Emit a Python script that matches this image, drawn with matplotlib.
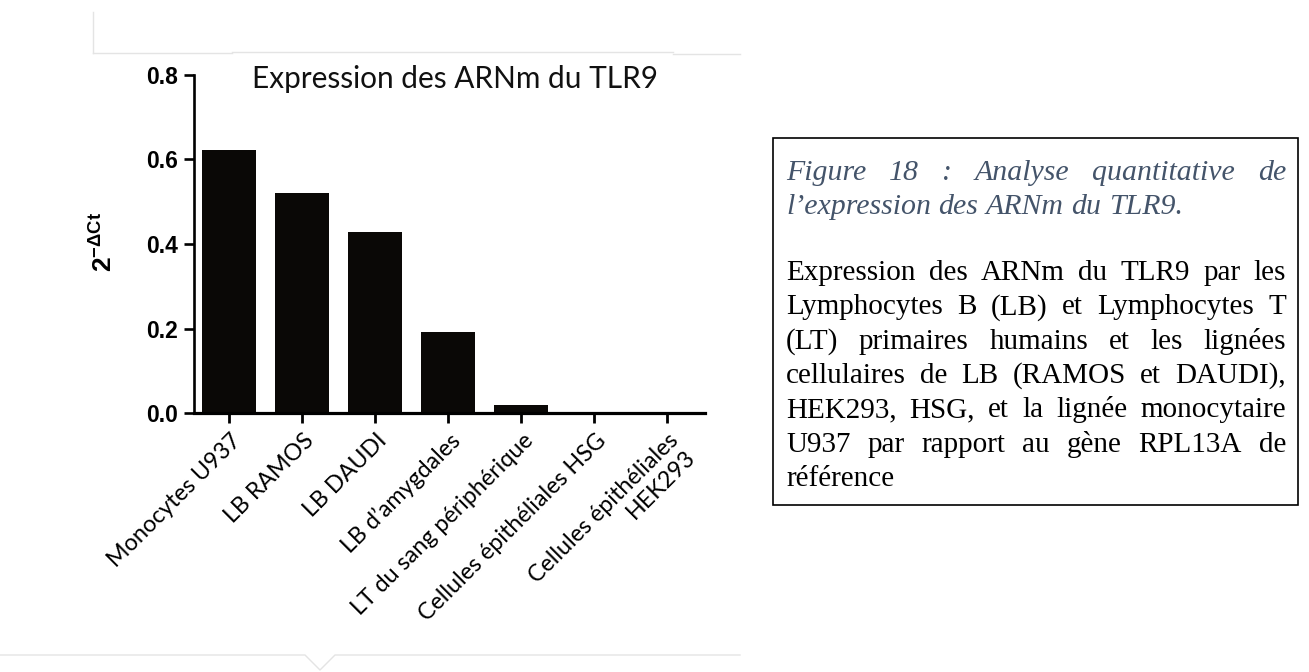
import matplotlib
matplotlib.use("Agg")
import matplotlib.pyplot as plt
from matplotlib.transforms import ScaledTranslation
from matplotlib.patches import Rectangle
from matplotlib.lines import Line2D

# ---------------- data ----------------
categories = ["Monocytes U937", "LB RAMOS", "LB DAUDI", "LB d’amygdales",
              "LT du sang périphérique", "Cellules épithéliales HSG",
              "Cellules épithéliales\nHEK293"]
values = [0.621, 0.521, 0.429, 0.193, 0.020, 0.001, 0.001]
yticks = [0.0, 0.2, 0.4, 0.6, 0.8]
ytick_labels = ["0.0", "0.2", "0.4", "0.6", "0.8"]
title = "Expression des ARNm du TLR9"
ylabel = r"$\mathbf{2^{-\Delta Ct}}$"

caption_head = [("Figure 18 : Analyse quantitative de", True),
                ("l’expression des ARNm du TLR9.", False)]
caption_body = [("Expression des ARNm du TLR9 par les", True),
                ("Lymphocytes B (LB) et Lymphocytes T", True),
                ("(LT) primaires humains et les lignées", True),
                ("cellulaires de LB (RAMOS et DAUDI),", True),
                ("HEK293, HSG, et la lignée monocytaire", True),
                ("U937 par rapport au gène RPL13A de", True),
                ("référence", False)]

# ---------------- figure ----------------
W, H = 1309, 672
plt.rcParams['mathtext.fontset'] = 'custom'
plt.rcParams['mathtext.bf'] = 'Liberation Sans:bold'
plt.rcParams['mathtext.rm'] = 'Liberation Sans:bold'
plt.rcParams['mathtext.it'] = 'Liberation Sans:bold'

fig = plt.figure(figsize=(W / 100, H / 100), dpi=100)
fig.patch.set_facecolor("white")
renderer = fig.canvas.get_renderer()

def fx(px):
    return px / W

def fy(py):
    return 1 - py / H

ax_l, ax_r, ax_t, ax_b = 193.5, 705.0, 74.7, 413.3
ax = fig.add_axes([fx(ax_l), fy(ax_b), (ax_r - ax_l) / W, (ax_b - ax_t) / H])

x = list(range(len(categories)))
ax.bar(x, values, width=0.74, color="#0a0806", edgecolor="none", zorder=2)
ax.set_xlim(-0.49, 6.52)
ax.set_ylim(0, 0.8)

for s in ["top", "right"]:
    ax.spines[s].set_visible(False)
ax.spines["left"].set_linewidth(1.9)
ax.spines["bottom"].set_linewidth(2.3)
ax.spines["left"].set_zorder(3)
ax.spines["bottom"].set_zorder(3)

ax.set_yticks(yticks)
ax.set_yticklabels(ytick_labels, fontfamily="Liberation Sans", fontweight="bold",
                   fontsize=16.5)
ax.tick_params(axis="y", length=7, width=1.9, pad=4, direction="out")

ax.set_xticks(x)

def measure(text, **kw):
    t = fig.text(0, 0, text, **kw)
    w = t.get_window_extent(renderer).width
    t.remove()
    return w

# fit x-label font so "Monocytes U937" is ~178 px long
lab_font = "Lato"
base = 16
wm = measure(categories[0], fontfamily=lab_font, fontsize=base)
lab_size = base * 178 / wm

ax.set_xticklabels(categories, rotation=45, ha="right", va="top",
                   rotation_mode="anchor", fontfamily=lab_font,
                   fontsize=lab_size, multialignment="right", linespacing=1.15)
ax.tick_params(axis="x", length=7, width=2.0, pad=5, direction="out")
off = ScaledTranslation(1 / 100, 0, fig.dpi_scale_trans)
for lbl in ax.get_xticklabels():
    lbl.set_transform(lbl.get_transform() + off)

ax.set_ylabel(ylabel, fontsize=19)
ax.yaxis.set_label_coords((119 - ax_l) / (ax_r - ax_l), (ax_b - 242) / (ax_b - ax_t))

# title fitted to ~405 px
wt = measure(title, fontfamily=lab_font, fontsize=20)
tsize = 20 * 405 / wt
fig.text(fx(454.5), fy(87.7), title, ha="center", va="baseline",
         fontfamily=lab_font, fontsize=tsize, color="#111111")

# ---------------- caption box ----------------
box_l, box_r, box_t, box_b = 773, 1298, 138, 505
fig.patches.append(Rectangle((fx(box_l), fy(box_b)), (box_r - box_l) / W,
                             (box_b - box_t) / H, transform=fig.transFigure,
                             fill=False, edgecolor="black", linewidth=1.2))

txt_l, txt_r = 786, 1286

def justified(line, y_px, justify, **kw):
    words = line.split(" ")
    widths = [measure(w, **kw) for w in words]
    total = txt_r - txt_l
    if justify and len(words) > 1:
        gap = (total - sum(widths)) / (len(words) - 1)
    else:
        gap = measure("a b", **kw) - measure("ab", **kw)
    xp = txt_l
    for w, wd in zip(words, widths):
        fig.text(fx(xp), fy(y_px), w, ha="left", va="baseline", **kw)
        xp += wd + gap

head_kw = dict(fontfamily="Liberation Serif", fontstyle="italic", fontsize=21.5,
               color="#44546A")
body_kw = dict(fontfamily="Liberation Serif", fontsize=21, color="black")

head_y = [180, 214]
for (line, j), y in zip(caption_head, head_y):
    justified(line, y, j, **head_kw)

body_y0, body_dy = 280, 34.3
for i, (line, j) in enumerate(caption_body):
    justified(line, body_y0 + i * body_dy, j, **body_kw)

# ---------------- faint frame lines (document artefacts) ----------------
fc = "#e4e4e4"
def fline(xs, ys):
    fig.lines.append(Line2D([fx(v) for v in xs], [fy(v) for v in ys],
                            transform=fig.transFigure, color=fc, linewidth=1.0))
fline([93, 93], [12, 53])
fline([93, 232], [53, 53])
fline([232, 673], [52, 52])
fline([673, 740], [54, 54])
fline([0, 305, 320, 335, 740], [655, 655, 670, 655, 655])

fig.savefig("out.png", dpi=100, facecolor="white")
